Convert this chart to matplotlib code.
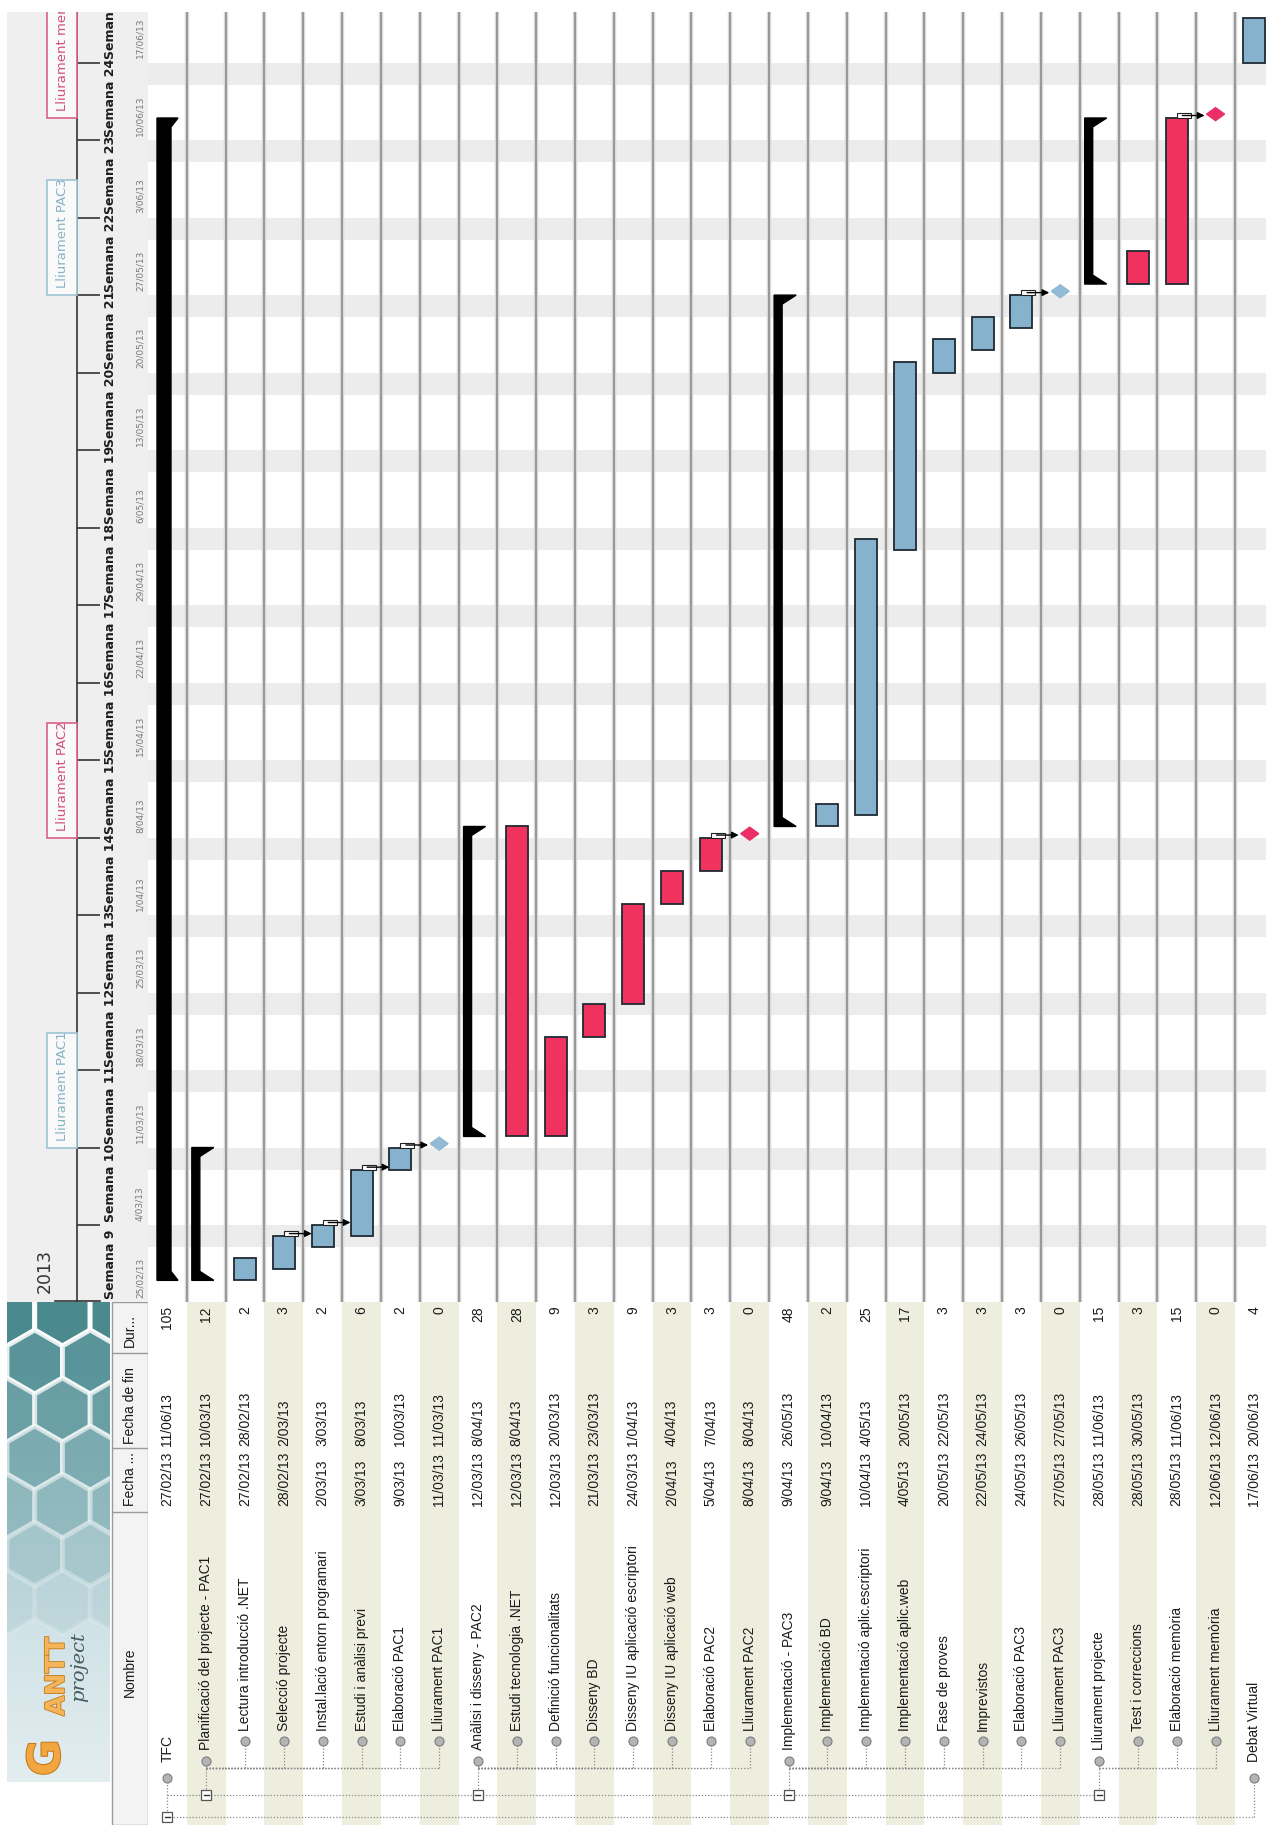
import datetime as dt
import matplotlib
matplotlib.use("Agg")
import matplotlib.pyplot as plt
import matplotlib.dates as mdates
import matplotlib.patheffects as pe
from matplotlib import font_manager
from matplotlib.patches import Rectangle, Polygon, RegularPolygon
import numpy as np

# -----------------------------
# Data
# -----------------------------
names = [
    "TFC", "Planificació del projecte - PAC1", "Lectura introducció .NET",
    "Selecció projecte", "Instal.lació entorn programari", "Estudi i anàlisi previ",
    "Elaboració PAC1", "Lliurament PAC1", "Anàlisi i disseny - PAC2",
    "Estudi tecnologia .NET", "Definició funcionalitats", "Disseny BD",
    "Disseny IU aplicació escriptori", "Disseny IU aplicació web", "Elaboració PAC2",
    "Lliurament PAC2", "Implementació - PAC3", "Implementació BD",
    "Implementació aplic.escriptori", "Implementació aplic.web", "Fase de proves",
    "Imprevistos", "Elaboració PAC3", "Lliurament PAC3", "Lliurament projecte",
    "Test i correccions", "Elaboració memòria", "Lliurament memòria", "Debat Virtual",
]
levels = [0, 1, 2, 2, 2, 2, 2, 2, 1, 2, 2, 2, 2, 2, 2, 2, 1, 2, 2, 2, 2, 2, 2, 2,
          1, 2, 2, 2, 0]
starts = [
    "27/02/13", "27/02/13", "27/02/13", "28/02/13", "2/03/13", "3/03/13", "9/03/13",
    "11/03/13", "12/03/13", "12/03/13", "12/03/13", "21/03/13", "24/03/13", "2/04/13",
    "5/04/13", "8/04/13", "9/04/13", "9/04/13", "10/04/13", "4/05/13", "20/05/13",
    "22/05/13", "24/05/13", "27/05/13", "28/05/13", "28/05/13", "28/05/13",
    "12/06/13", "17/06/13",
]
ends = [
    "11/06/13", "10/03/13", "28/02/13", "2/03/13", "3/03/13", "8/03/13", "10/03/13",
    "11/03/13", "8/04/13", "8/04/13", "20/03/13", "23/03/13", "1/04/13", "4/04/13",
    "7/04/13", "8/04/13", "26/05/13", "10/04/13", "4/05/13", "20/05/13", "22/05/13",
    "24/05/13", "26/05/13", "27/05/13", "11/06/13", "30/05/13", "11/06/13",
    "12/06/13", "20/06/13",
]
durations = [105, 12, 2, 3, 2, 6, 2, 0, 28, 28, 9, 3, 9, 3, 3, 0, 48, 2, 25, 17,
             3, 3, 3, 0, 15, 3, 15, 0, 4]
kinds = ["S", "S", "T", "T", "T", "T", "T", "M", "S", "T", "T", "T", "T", "T", "T",
         "M", "S", "T", "T", "T", "T", "T", "T", "M", "S", "T", "T", "M", "T"]
groups = ["k", "k", "b", "b", "b", "b", "b", "b", "k", "r", "r", "r", "r", "r", "r",
          "r", "k", "b", "b", "b", "b", "b", "b", "b", "k", "r", "r", "r", "b"]
dependencies = [(3, 4), (4, 5), (5, 6), (6, 7), (14, 15), (22, 23), (26, 27)]

week_numbers = list(range(9, 26))
week_dates = ["25/02/13", "4/03/13", "11/03/13", "18/03/13", "25/03/13", "1/04/13",
              "8/04/13", "15/04/13", "22/04/13", "29/04/13", "6/05/13", "13/05/13",
              "20/05/13", "27/05/13", "3/06/13", "10/06/13", "17/06/13"]

# -----------------------------
# Layout (pixels of the screenshot)
# -----------------------------
W, H, DPI = 1266, 1825, 100
ROW0, ROW_H = 148, 38.82
TOP, SPLIT = 12, 1302
PX_DAY = 11.07
BAR_W = 22 / ROW_H

FILL = {"b": "#86b2ce", "r": "#f0325f"}
DIAMOND = {"b": "#93bad4", "r": "#ea2f66"}
BOX_EDGE = {"b": "#9cc3d3", "r": "#d9608a"}
BOX_TEXT = {"b": "#86b3c6", "r": "#d0507c"}


def font_ok(name):
    try:
        font_manager.findfont(font_manager.FontProperties(family=name),
                              fallback_to_default=False)
        return True
    except Exception:
        return False


if font_ok("Liberation Sans Narrow"):
    TFONT, TSIZE = "Liberation Sans Narrow", 11.5
else:
    TFONT, TSIZE = "Liberation Sans", 10


def d(s):
    return mdates.date2num(dt.datetime.strptime(s, "%d/%m/%y"))


s_num = np.array([d(s) for s in starts])
e_num = np.array([d(s) for s in ends]) + 1
w_num = np.array([d(s) for s in week_dates])
anchor = d("4/03/13")
y_lo = anchor - (SPLIT - 1225) / PX_DAY
y_hi = anchor + (1225 - TOP) / PX_DAY
n_rows_visible = (W - ROW0) / ROW_H

fig = plt.figure(figsize=(W / DPI, H / DPI), dpi=DPI)
fig.patch.set_facecolor("white")


def px_axes(x0, y0, x1, y1, **kw):
    a = fig.add_axes([x0 / W, 1 - y1 / H, (x1 - x0) / W, (y1 - y0) / H], **kw)
    a.set_axis_off()
    return a


# -----------------------------
# Chart area
# -----------------------------
ax = px_axes(ROW0, TOP, W, SPLIT)
ax.set_xlim(0, n_rows_visible)
ax.set_ylim(y_lo, y_hi)

day = mdates.date2num(dt.datetime(2013, 2, 23))
while day < y_hi:
    ax.axhspan(day, day + 2, color="#ececec", lw=0, zorder=0)
    day += 7

for r in range(1, len(names)):
    ax.axvline(r, color="#dadada", lw=3.2, zorder=1)
    ax.axvline(r, color="#939393", lw=1.3, zorder=1)

for r, kind in enumerate(kinds):
    if kind == "T":
        ax.bar(r + 0.5, e_num[r] - s_num[r], bottom=s_num[r], width=BAR_W,
               color=FILL[groups[r]], edgecolor="#1f2a33", lw=1.3, zorder=3)
    elif kind == "M":
        cx, cy = r + 0.5, s_num[r] + 0.35
        hx, hy = 9 / ROW_H, 6.5 / PX_DAY
        ax.add_patch(Polygon([(cx - hx, cy), (cx, cy + hy), (cx + hx, cy), (cx, cy - hy)],
                             closed=True, color=DIAMOND[groups[r]], zorder=4))
    else:
        if levels[r] == 0:
            xl, xr, xw = r + 9 / ROW_H, r + 23 / ROW_H, r + 30 / ROW_H
        else:
            xl, xr, xw = r + 5 / ROW_H, r + 13 / ROW_H, r + 27 / ROW_H
        hw = 9 / PX_DAY
        s, e = s_num[r], e_num[r]
        ax.add_patch(Polygon([(xl, s), (xw, s), (xr, s + hw), (xr, e - hw),
                              (xw, e), (xl, e)], closed=True, color="black", zorder=3))

for p, q in dependencies:
    stub_w, stub_h = 14 / ROW_H, 5 / PX_DAY
    ax.add_patch(Rectangle((p + 0.5, e_num[p]), stub_w, stub_h, fc="white",
                           ec="#222222", lw=0.8, zorder=4))
    ya = e_num[p] + stub_h / 2
    if kinds[q] == "M":
        xt = q + 0.5 - 11 / ROW_H
    else:
        xt = q + 0.5 - BAR_W / 2
    ax.annotate("", xy=(xt, ya), xytext=(p + 0.5 + stub_w * 0.4, ya),
                arrowprops=dict(arrowstyle="-|>", color="black", lw=1.0,
                                mutation_scale=10, shrinkA=0, shrinkB=0), zorder=5)

# -----------------------------
# Timeline header (left of chart)
# -----------------------------
axh = px_axes(7, TOP, ROW0, SPLIT, sharey=ax)
axh.set_xlim(7, ROW0)
axh.add_patch(Rectangle((7, y_lo), ROW0 - 7, y_hi - y_lo, color="#efefef", zorder=0))
axh.plot([77, 77], [y_lo, y_hi], color="#333333", lw=1.2, zorder=2)
axh.plot([55, 100], [y_lo + 0.08, y_lo + 0.08], color="#333333", lw=1.2, zorder=2)
axh.hlines(w_num[1:], 77, 100, color="#333333", lw=1.2, zorder=2)
for n, wd, lab in zip(week_numbers, w_num, week_dates):
    axh.text(110, wd + 0.3, f"Semana {n}", rotation=90, ha="center", va="bottom",
             fontsize=9, fontweight="bold", color="#1e1e1e", clip_on=True)
    axh.text(140, wd + 0.4, lab, rotation=90, ha="center", va="bottom",
             fontsize=6.5, color="#7a7a7a", clip_on=True)
axh.text(45, y_lo + 0.8, "2013", rotation=90, ha="center", va="bottom",
         fontsize=12.5, color="#333333")

for r, kind in enumerate(kinds):
    if kind != "M":
        continue
    g = groups[r]
    axh.add_patch(Rectangle((47, s_num[r]), 30, 115 / PX_DAY, fc="#f9f9f9",
                            ec=BOX_EDGE[g], lw=1.2, zorder=3, clip_on=True))
    axh.text(62, s_num[r] + 0.6, names[r], rotation=90, ha="center", va="bottom",
             fontsize=9.5, color=BOX_TEXT[g], zorder=4, clip_on=True)

# -----------------------------
# Task table (below chart)
# -----------------------------
axt = px_axes(ROW0, SPLIT, W, H, sharex=ax)
axt.set_ylim(H, SPLIT)
for r in range(len(names)):
    if r % 2 == 1:
        axt.axvspan(r, r + 1, color="#eeeedf", lw=0, zorder=0)

tkw = dict(rotation=90, ha="center", family=TFONT, fontsize=TSIZE, color="#1a1a1a",
           clip_on=True, zorder=3)
text_y = {0: 1762, 1: 1750, 2: 1731}
circle_y = {0: 1778, 1: 1761, 2: 1741}
for r, name in enumerate(names):
    c = r + 0.5
    axt.text(c, 1306, str(durations[r]), va="top", **tkw)
    axt.text(c, 1446, ends[r], va="bottom", **tkw)
    axt.text(c, 1506, starts[r], va="bottom", **tkw)
    axt.text(c, text_y[levels[r]], name, va="bottom", **tkw)

# tree lines
dot = dict(color="#8a8a8a", lw=0.9, ls=(0, (1, 1.5)), zorder=1)
axt.plot([0.5, 28.5], [1817, 1817], **dot)
axt.plot([0.5, 24.5], [1795, 1795], **dot)
parent = None
for r, lv in enumerate(levels):
    c = r + 0.5
    if lv == 1:
        parent = r
        axt.plot([c, c], [1795, circle_y[1]], **dot)
    elif lv == 2:
        axt.plot([parent + 0.5, c], [1768, 1768], **dot)
        axt.plot([c, c], [1768, circle_y[2]], **dot)
    else:
        axt.plot([c, c], [1817, circle_y[0]], **dot)
for r, kind in enumerate(kinds):
    c = r + 0.5
    axt.plot(c, circle_y[levels[r]], "o", ms=6.5, mfc="#b4b4b4", mec="#7d7d7d",
             mew=0.8, zorder=4)
    if kind == "S":
        by = 1817 if levels[r] == 0 else 1795
        axt.add_patch(Rectangle((c - 5 / ROW_H, by - 5), 10 / ROW_H, 10, fc="white",
                                ec="#555555", lw=0.9, zorder=4))
        axt.plot([c - 2.5 / ROW_H, c + 2.5 / ROW_H], [by, by], color="#333333",
                 lw=1, zorder=5)

# -----------------------------
# Table header band and logo
# -----------------------------
axl = px_axes(0, SPLIT, ROW0, H)
axl.set_xlim(0, ROW0)
axl.set_ylim(H, SPLIT)
axl.add_patch(Rectangle((112, SPLIT), 36, H - SPLIT, fc="#f3f3f3", ec="#9a9a9a",
                        lw=1, zorder=1))
axl.hlines([1353, 1448, 1512], 112, 148, color="#9a9a9a", lw=1, zorder=2)
hkw = dict(rotation=90, ha="center", family=TFONT, fontsize=TSIZE, color="#1a1a1a",
           zorder=3)
axl.text(130, 1347, "Dur...", va="bottom", **hkw)
axl.text(130, 1444, "Fecha de fin", va="bottom", **hkw)
axl.text(130, 1506, "Fecha ...", va="bottom", **hkw)
axl.text(130, 1672, "Nombre", va="center", **hkw)

grad = np.linspace(0, 1, 200)[:, None] * np.ones((1, 2))
top_c = np.array([0.66, 0.80, 0.83])
bot_c = np.array([0.89, 0.93, 0.94])
img = top_c[None, None, :] * (1 - grad[..., None]) + bot_c[None, None, :] * grad[..., None]
axl.imshow(img, extent=(7, 110, 1782, SPLIT), aspect="auto", zorder=1)
clip = Rectangle((7, SPLIT), 103, 1782 - SPLIT, transform=axl.transData)
R = 32
for j in range(0, 8):
    yc = SPLIT + 12 + j * 1.5 * R
    for i in range(-1, 4):
        xc = 7 + i * np.sqrt(3) * R + (np.sqrt(3) * R / 2 if j % 2 else 0)
        alpha = max(0.0, 1 - (yc - SPLIT) / 340)
        if alpha <= 0:
            continue
        hexa = RegularPolygon((xc, yc), 6, radius=R, orientation=0, fc="#47888d",
                              ec="white", lw=3.5, alpha=alpha, zorder=2)
        axl.add_patch(hexa)
        hexa.set_clip_path(clip)
axl.text(47, 1776, "G", rotation=90, ha="center", va="bottom", fontsize=32,
         fontweight="bold", color="#f2a640", zorder=3,
         path_effects=[pe.withStroke(linewidth=1.5, foreground="#c47a1c")])
axl.text(57, 1716, "ANTT", rotation=90, ha="center", va="bottom", fontsize=19,
         fontweight="bold", color="#f4b45a", zorder=3,
         path_effects=[pe.withStroke(linewidth=1.2, foreground="#c47a1c")])
axl.text(79, 1702, "project", rotation=90, ha="center", va="bottom", fontsize=14,
         style="italic", family="DejaVu Serif", color="#46595e", zorder=3)

fig.savefig("out.png", dpi=DPI, facecolor="white")
